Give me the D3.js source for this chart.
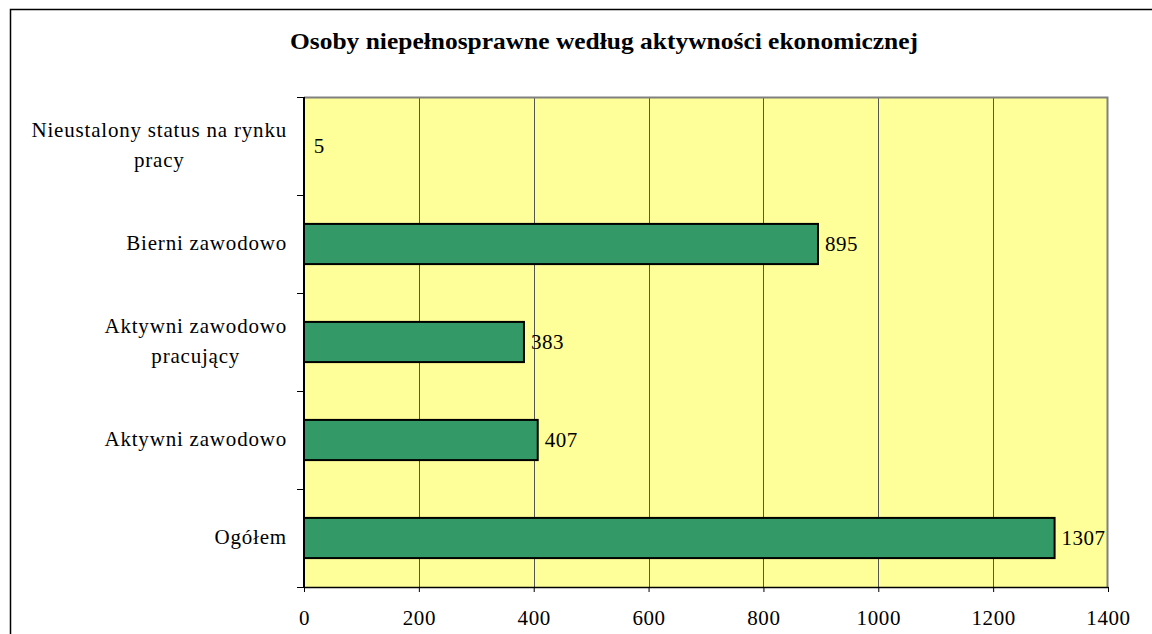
<!DOCTYPE html>
<html>
<head>
<meta charset="utf-8">
<script src="https://cdn.jsdelivr.net/npm/d3@7"></script>
<style>
  body { margin: 0; background: #fff; }
  svg, svg text { font-family: "Liberation Serif", "Times New Roman", serif; }
  svg { display: block; }
</style>
</head>
<body>
<div id="chart"></div>
<script>
const FRAME_WIDTH = 1152;
const FRAME_HEIGHT = 634;
const MARGINS = {left: 304, right: 44, top: 97, bottom: 47};

const VIS_WIDTH = FRAME_WIDTH - MARGINS.left - MARGINS.right;
const VIS_HEIGHT = FRAME_HEIGHT - MARGINS.top - MARGINS.bottom;

const BAR_COLOR = "#339966";
const PLOT_COLOR = "#ffff99";

// data, top to bottom as drawn
const CATEGORIES = [
  ["Nieustalony status na rynku", "pracy"],
  ["Bierni zawodowo"],
  ["Aktywni zawodowo", "pracujący"],
  ["Aktywni zawodowo"],
  ["Ogółem"]
];
const VALUES = [5, 895, 383, 407, 1307];
const X_TICKS = [0, 200, 400, 600, 800, 1000, 1200, 1400];

const TITLE = "Osoby niepełnosprawne według aktywności ekonomicznej";

const SVG = d3.select("#chart")
  .append("svg")
    .attr("width", FRAME_WIDTH)
    .attr("height", FRAME_HEIGHT);

// outer chart frame
SVG.append("rect")
  .attr("x", 10.5)
  .attr("y", 9.5)
  .attr("width", FRAME_WIDTH + 20)
  .attr("height", FRAME_HEIGHT + 20)
  .attr("fill", "#fff")
  .attr("stroke", "#000")
  .attr("stroke-width", 1.5);

const X_SCALE = d3.scaleLinear()
  .domain([0, 1400])
  .range([0, VIS_WIDTH]);

const Y_SCALE = d3.scaleBand()
  .domain(d3.range(CATEGORIES.length))
  .range([0, VIS_HEIGHT])
  .paddingInner(0.59)
  .paddingOuter(0.295);

const G = SVG.append("g")
  .attr("transform", "translate(" + MARGINS.left + "," + MARGINS.top + ")");

// plot background
G.append("rect")
  .attr("width", VIS_WIDTH)
  .attr("height", VIS_HEIGHT)
  .attr("fill", PLOT_COLOR);

// vertical gridlines
G.selectAll(".grid")
  .data(X_TICKS.slice(1, -1))
  .enter()
  .append("line")
    .attr("x1", (d) => Math.round(X_SCALE(d)) + 0.5)
    .attr("x2", (d) => Math.round(X_SCALE(d)) + 0.5)
    .attr("y1", 0)
    .attr("y2", VIS_HEIGHT)
    .attr("stroke", "#555")
    .attr("stroke-width", 1);

// top and right plot border
G.append("path")
  .attr("d", "M0,0.5H" + (VIS_WIDTH - 0.5) + "V" + VIS_HEIGHT)
  .attr("fill", "none")
  .attr("stroke", "#808080")
  .attr("stroke-width", 2);

// bars (the tiny one is lost against the axis in the original)
G.selectAll(".bar")
  .data(VALUES)
  .enter()
  .append("rect")
    .attr("x", 0)
    .attr("y", (d, i) => Y_SCALE(i))
    .attr("width", (d) => X_SCALE(d))
    .attr("height", Y_SCALE.bandwidth())
    .attr("fill", BAR_COLOR)
    .attr("stroke", (d) => X_SCALE(d) < 4 ? "none" : "#000")
    .attr("fill-opacity", (d) => X_SCALE(d) < 4 ? 0 : 1)
    .attr("stroke-width", 2);

// value labels
G.selectAll(".val")
  .data(VALUES)
  .enter()
  .append("text")
    .attr("x", (d) => X_SCALE(d) + 7)
    .attr("y", (d, i) => Y_SCALE(i) + Y_SCALE.bandwidth() / 2 + 7)
    .attr("font-size", "21px")
    .attr("letter-spacing", "0.5px")
    .text((d) => d);

// x axis
const xAxis = G.append("g")
  .attr("transform", "translate(0," + VIS_HEIGHT + ")")
  .call(d3.axisBottom(X_SCALE).tickValues(X_TICKS).tickFormat(d3.format("d"))
    .tickSize(5).tickPadding(18).tickSizeOuter(0));
xAxis.attr("font-family", null);
xAxis.select(".domain").attr("stroke", "#000").attr("stroke-width", 1.5);
xAxis.selectAll("text")
  .attr("font-size", "21px")
  .attr("letter-spacing", "0.6px")
  .attr("fill", "#000");

// y axis with ticks at band edges
const yAxis = G.append("g");
yAxis.append("line")
  .attr("x1", 0).attr("x2", 0)
  .attr("y1", 0).attr("y2", VIS_HEIGHT)
  .attr("stroke", "#000")
  .attr("stroke-width", 2);
yAxis.selectAll(".ytick")
  .data(d3.range(CATEGORIES.length + 1))
  .enter()
  .append("line")
    .attr("x1", -7).attr("x2", 0)
    .attr("y1", (i) => i * Y_SCALE.step() + 0.5)
    .attr("y2", (i) => i * Y_SCALE.step() + 0.5)
    .attr("stroke", "#000")
    .attr("stroke-width", 1);

// category labels: each block ends at the same x, lines centered in the block
const LABEL_RIGHT = -17;
const LINE_H = 30;
CATEGORIES.forEach((lines, i) => {
  const cy = Y_SCALE(i) + Y_SCALE.bandwidth() / 2;
  const t = G.append("text")
    .attr("font-size", "21px")
    .attr("letter-spacing", "0.8px")
    .attr("text-anchor", "middle");
  const spans = lines.map((s, k) => t.append("tspan")
    .attr("y", cy + 6 + (k - (lines.length - 1) / 2) * LINE_H)
    .text(s));
  const w = d3.max(spans, (s) => s.node().getComputedTextLength());
  spans.forEach((s) => s.attr("x", LABEL_RIGHT - w / 2));
});

// title
SVG.append("text")
  .attr("x", 604)
  .attr("y", 49)
  .attr("text-anchor", "middle")
  .attr("font-size", "23px")
  .attr("font-weight", "bold")
  .attr("textLength", 628)
  .attr("lengthAdjust", "spacingAndGlyphs")
  .text(TITLE);
</script>
</body>
</html>
